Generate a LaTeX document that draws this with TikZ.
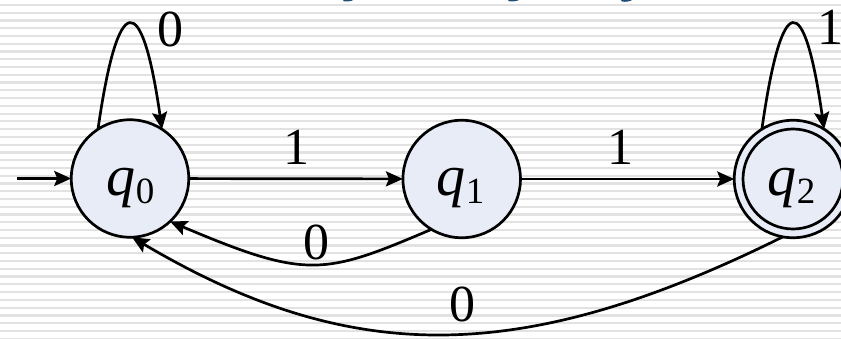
\documentclass[tikz,border=0pt]{standalone}
\usepackage{fontspec}
\setmainfont{Liberation Serif}
\usetikzlibrary{arrows.meta}
\definecolor{statefill}{RGB}{232,236,246}
\definecolor{stripecol}{RGB}{226,226,226}
\definecolor{titleblue}{RGB}{31,78,121}
\newcommand{\subidx}[1]{\raisebox{-7.6pt}{\fontsize{37}{38}\selectfont #1}}
\begin{document}
\begin{tikzpicture}[x=1pt,y=1pt,
  state/.style={circle,draw=black,line width=2.7pt,fill=statefill,minimum size=117.5pt,inner sep=0pt,outer sep=0pt},
  slabel/.style={anchor=base,inner sep=0pt,font=\fontsize{58}{60}\selectfont},
  elabel/.style={anchor=base,inner sep=0pt,font=\fontsize{52}{56}\selectfont},
  trans/.style={draw=black,line width=2.7pt,-{Stealth[length=17pt,width=15pt,inset=3pt]}},
  stripe/.style={fill=stripecol},
  frag/.style={fill=titleblue}
]
\useasboundingbox (0,0) rectangle (841,-339);
\clip (0,0) rectangle (841,-339);
\fill[white] (0,0) rectangle (841,-339);
\foreach \i in {0,...,43} {
  \fill[stripe] (0,{-5-7.76*\i+1.1}) rectangle (841,{-5-7.76*\i-1.1});
}
% cut-off title fragments
\fill[frag] (343,0) -- (353,0) .. controls (352,-1) and (348,-1.8) .. (344,-1.4) -- cycle;
\fill[frag] (508,0) -- (519,0) .. controls (517,-1.2) and (512,-1.8) .. (509,-1.2) -- cycle;
\fill[frag] (621,0) -- (632,0) .. controls (630,-1.4) and (626,-2.2) .. (622,-1.6) -- cycle;

% states
\node[state] (q0) at (130,-178.5) {};
\node[state] (q1) at (461.7,-179) {};
\node[state] (q2) at (793,-179) {};
\draw[line width=2.7pt] (q2.center) circle (50);

\node[slabel] (q0lab) at (130.5,-195.7) {{\itshape q}\subidx{0}};
\node[slabel] (q1lab) at (460.5,-195.7) {{\itshape q}\subidx{1}};
\node[slabel] (q2lab) at (791.5,-195.7) {{\itshape q}\subidx{2}};

% transitions
\coordinate (init) at (17,-178.5);
\draw[trans] (init) -- (q0);
\draw[trans] (q0) -- (q1);
\draw[trans] (q1) -- (q2);
\draw[trans] (q0.123) .. controls +(20,140) and +(-20,140) .. (q0.57);
\draw[trans] (q2.122) .. controls +(20,140) and +(-20,140) .. (q2.58);
\draw[trans] (q1.-121) .. controls +(-108,-46) and +(137,-58) .. (q0.-47);
\draw[trans] (q2.-100) .. controls +(-262,-130) and +(218,-129) .. (q0.-88);

% labels
\node[elabel] (l01) at (296,-165) {1};
\node[elabel] (l12) at (620,-165) {1};
\node[elabel] (l10) at (316,-259) {0};
\node[elabel] (l20) at (462,-321) {0};
\node[elabel] (l00) at (170,-46.5) {0};
\node[elabel] (l22) at (830,-45) {1};
\end{tikzpicture}
\end{document}
